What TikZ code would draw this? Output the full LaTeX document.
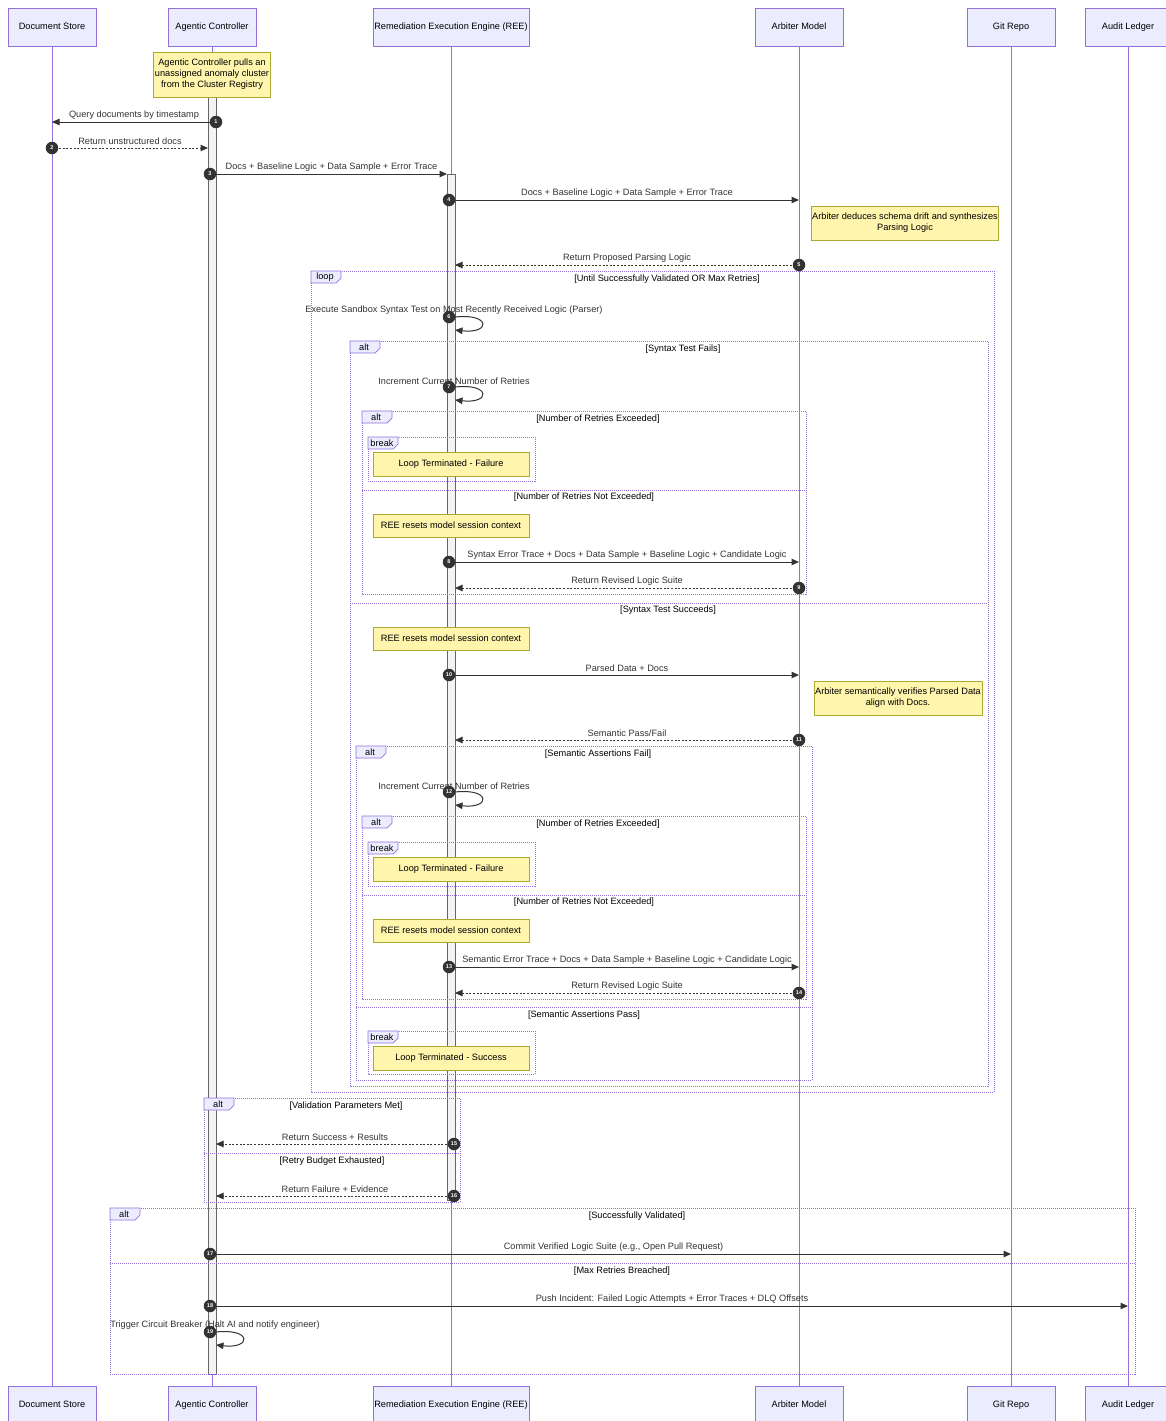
\documentclass[tikz,border=0pt]{standalone}
\usepackage{fontspec}
\setmainfont{Liberation Sans}
\usetikzlibrary{arrows.meta,positioning,calc}

\definecolor{mmline}{HTML}{9370DB}
\definecolor{mmbox}{HTML}{ECECFF}
\definecolor{mmnote}{HTML}{FFF5AD}
\definecolor{mmnoteline}{HTML}{AAAA33}
\definecolor{mmtext}{HTML}{333333}
\definecolor{mmact}{HTML}{F4F4F4}
\definecolor{mmactline}{HTML}{666666}

\tikzset{
  actor/.style={draw=mmline, fill=mmbox, minimum height=38pt, inner sep=0pt, line width=0.8pt,
    text height=7pt, text depth=2pt},
  life/.style={draw=mmline, line width=0.8pt},
  act/.style={draw=mmactline, fill=mmact, line width=0.7pt},
  msg/.style={draw=mmtext, line width=1pt, ->},
  reply/.style={msg, dash pattern=on 2pt off 1.6pt},
  msglabel/.style={text=mmtext, above=1pt, inner sep=1pt},
  num/.style={circle, fill=mmtext, text=white, inner sep=0pt, minimum size=12.5pt, font=\fontsize{5.5}{6}\selectfont\bfseries},
  note/.style={draw=mmnoteline, fill=mmnote, align=center, inner sep=1pt, line width=0.8pt},
  frame/.style={draw=mmline, line width=0.7pt, dash pattern=on 1pt off 1pt},
  tab/.style={draw=mmline, fill=mmbox, line width=0.7pt},
  guard/.style={text=black, inner sep=0pt}
}

\newcommand{\seqtab}[3]{%
  \draw[tab] (#1,#2) -- ++(30,0) -- ++(0,7) -- ++(-5,5) -- ++(-25,0) -- cycle;
  \node[guard] at (#1+14,#2+6.5) {#3};}

\begin{document}
\begin{tikzpicture}[x=1pt, y=-1pt, >={Triangle[length=7.5pt,width=6.5pt]}, font=\fontsize{9.2}{11}\selectfont]
\useasboundingbox (0,0) rectangle (1166,1421);

% participants and lifelines
\foreach \nm/\cx/\w/\txt in {ds/52/88/{Document Store}, ac/212/88/{Agentic Controller},
    ree/451/156/{Remediation Execution Engine (REE)}, arb/799/88/{Arbiter Model},
    git/1011/88/{Git Repo}, aud/1128/86/{Audit Ledger}} {
  \node[actor, minimum width=\w pt] (\nm) at (\cx,27) {\txt};
  \node[actor, minimum width=\w pt] (\nm-b) at (\cx,1405) {\txt};
  \draw[life] (\nm) -- (\nm-b);
}

% activations
\draw[act] (208,97) rectangle (216,1374);
\draw[act] (447,174) rectangle (455,1200);

% frames
\draw[frame] (311,271) rectangle (994,1092);
\seqtab{311}{271}{loop}
\node[guard] at (667,279) {[Until Successfully Validated OR Max Retries]};

\draw[frame] (350,341) rectangle (988,1086);
\seqtab{350}{341}{alt}
\node[guard] at (683,349) {[Syntax Test Fails]};
\draw[frame] (350,603) -- (988,603);
\node[guard] at (668,610) {[Syntax Test Succeeds]};

\draw[frame] (362,411) rectangle (806,594);
\seqtab{362}{411}{alt}
\node[guard] at (598,419) {[Number of Retries Exceeded]};
\draw[frame] (362,490) -- (806,490);
\node[guard] at (584,497) {[Number of Retries Not Exceeded]};
\draw[frame] (368,437) rectangle (535,481);
\seqtab{368}{437}{break}

\draw[frame] (356,746) rectangle (812,1080);
\seqtab{356}{746}{alt}
\node[guard] at (598,754) {[Semantic Assertions Fail]};
\draw[frame] (356,1007) -- (812,1007);
\node[guard] at (584,1015) {[Semantic Assertions Pass]};

\draw[frame] (362,816) rectangle (806,999);
\seqtab{362}{816}{alt}
\node[guard] at (598,824) {[Number of Retries Exceeded]};
\draw[frame] (362,895) -- (806,895);
\node[guard] at (584,902) {[Number of Retries Not Exceeded]};
\draw[frame] (368,842) rectangle (535,886);
\seqtab{368}{842}{break}

\draw[frame] (368,1031) rectangle (535,1074);
\seqtab{368}{1031}{break}

\draw[frame] (204,1098) rectangle (460,1202);
\seqtab{204}{1098}{alt}
\node[guard] at (346,1106) {[Validation Parameters Met]};
\draw[frame] (204,1153) -- (460,1153);
\node[guard] at (332,1161) {[Retry Budget Exhausted]};

\draw[frame] (110,1208) rectangle (1135,1374);
\seqtab{110}{1208}{alt}
\node[guard] at (637,1216) {[Successfully Validated]};
\draw[frame] (110,1263) -- (1135,1263);
\node[guard] at (622,1271) {[Max Retries Breached]};

% notes
\node[note, minimum width=117pt, minimum height=45pt] (pull) at (ac |- 0,74.5)
  {Agentic Controller pulls an\\unassigned anomaly cluster\\from the Cluster Registry};
\node[note, minimum width=182pt, minimum height=34pt] (deduce) at (905,223)
  {Arbiter deduces schema drift and synthesizes\\Parsing Logic};
\node[note, minimum width=156pt, minimum height=24pt] (fail1) at (ree |- 0,464) {Loop Terminated - Failure};
\node[note, minimum width=156pt, minimum height=23pt] (reset1) at (ree |- 0,525.5) {REE resets model session context};
\node[note, minimum width=156pt, minimum height=23pt] (reset2) at (ree |- 0,638.5) {REE resets model session context};
\node[note, minimum width=168pt, minimum height=34pt] (verify) at (898,698)
  {Arbiter semantically verifies Parsed Data\\align with Docs.};
\node[note, minimum width=156pt, minimum height=24pt] (fail2) at (ree |- 0,869) {Loop Terminated - Failure};
\node[note, minimum width=156pt, minimum height=23pt] (reset3) at (ree |- 0,930.5) {REE resets model session context};
\node[note, minimum width=156pt, minimum height=24pt] (success) at (ree |- 0,1058) {Loop Terminated - Success};

% messages
\draw[msg] ([xshift=4pt]ac.center |- 0,122) -- node[msglabel]{Query documents by timestamp}
  (ds.center |- 0,122) node[num, pos=0]{1};
\draw[reply] (ds.center |- 0,148) -- node[msglabel, above=2pt]{Return unstructured docs}
  ([xshift=-4pt]ac.center |- 0,148) node[num, pos=0]{2};
\draw[msg] ([xshift=4pt]ac.center |- 0,174) -- node[msglabel]{Docs + Baseline Logic + Data Sample + Error Trace}
  ([xshift=-4pt]ree.center |- 0,174);
\node[num] at ([xshift=-2pt]ac.center |- 0,174) {3};
\draw[msg] ([xshift=4pt]ree.center |- 0,200) -- node[msglabel]{Docs + Baseline Logic + Data Sample + Error Trace}
  (arb.center |- 0,200);
\node[num] at ([xshift=-2pt]ree.center |- 0,200) {4};
\draw[reply] (arb.center |- 0,265) -- node[msglabel]{Return Proposed Parsing Logic}
  ([xshift=4pt]ree.center |- 0,265) node[num, pos=0]{5};

\node[msglabel, above=0pt] at ([xshift=3pt]ree.center |- 0,316) {Execute Sandbox Syntax Test on Most Recently Received Logic (Parser)};
\draw[msg] ([xshift=4pt]ree.center |- 0,317) .. controls +(36,-4) and +(36,4) .. ([xshift=4pt]ree.center |- 0,330);
\node[num] at ([xshift=-2pt]ree.center |- 0,317) {6};

\node[msglabel, above=0pt] at ([xshift=3pt]ree.center |- 0,386) {Increment Current Number of Retries};
\draw[msg] ([xshift=4pt]ree.center |- 0,387) .. controls +(36,-4) and +(36,4) .. ([xshift=4pt]ree.center |- 0,400);
\node[num] at ([xshift=-2pt]ree.center |- 0,387) {7};

\draw[msg] ([xshift=4pt]ree.center |- 0,562) -- node[msglabel]{Syntax Error Trace + Docs + Data Sample + Baseline Logic + Candidate Logic}
  (arb.center |- 0,562);
\node[num] at ([xshift=-2pt]ree.center |- 0,562) {8};
\draw[reply] (arb.center |- 0,588) -- node[msglabel]{Return Revised Logic Suite}
  ([xshift=4pt]ree.center |- 0,588) node[num, pos=0]{9};

\draw[msg] ([xshift=4pt]ree.center |- 0,675) -- node[msglabel, above=2pt]{Parsed Data + Docs}
  (arb.center |- 0,675);
\node[num] at ([xshift=-2pt]ree.center |- 0,675) {10};
\draw[reply] (arb.center |- 0,740) -- node[msglabel, above=2pt]{Semantic Pass/Fail}
  ([xshift=4pt]ree.center |- 0,740) node[num, pos=0]{11};

\node[msglabel, above=0pt] at ([xshift=3pt]ree.center |- 0,791) {Increment Current Number of Retries};
\draw[msg] ([xshift=4pt]ree.center |- 0,792) .. controls +(36,-4) and +(36,4) .. ([xshift=4pt]ree.center |- 0,805);
\node[num] at ([xshift=-2pt]ree.center |- 0,792) {12};

\draw[msg] ([xshift=4pt]ree.center |- 0,967) -- node[msglabel]{Semantic Error Trace + Docs + Data Sample + Baseline Logic + Candidate Logic}
  (arb.center |- 0,967);
\node[num] at ([xshift=-2pt]ree.center |- 0,967) {13};
\draw[reply] (arb.center |- 0,993) -- node[msglabel]{Return Revised Logic Suite}
  ([xshift=4pt]ree.center |- 0,993) node[num, pos=0]{14};

\draw[reply] ([xshift=3pt]ree.center |- 0,1144) -- node[msglabel, above=2pt]{Return Success + Results}
  ([xshift=4pt]ac.center |- 0,1144) node[num, pos=0]{15};
\draw[reply] ([xshift=3pt]ree.center |- 0,1196) -- node[msglabel, above=2pt]{Return Failure + Evidence}
  ([xshift=4pt]ac.center |- 0,1196) node[num, pos=0]{16};

\draw[msg] ([xshift=4pt]ac.center |- 0,1254) -- node[msglabel]{Commit Verified Logic Suite (e.g., Open Pull Request)}
  (git.center |- 0,1254);
\node[num] at ([xshift=-2pt]ac.center |- 0,1254) {17};
\draw[msg] ([xshift=4pt]ac.center |- 0,1306) -- node[msglabel]{Push Incident: Failed Logic Attempts + Error Traces + DLQ Offsets}
  (aud.center |- 0,1306);
\node[num] at ([xshift=-2pt]ac.center |- 0,1306) {18};

\node[msglabel, above=0pt] at ([xshift=3pt]ac.center |- 0,1331) {Trigger Circuit Breaker (Halt AI and notify engineer)};
\draw[msg] ([xshift=4pt]ac.center |- 0,1332) .. controls +(36,-4) and +(36,4) .. ([xshift=4pt]ac.center |- 0,1345);
\node[num] at ([xshift=-2pt]ac.center |- 0,1332) {19};
\end{tikzpicture}
\end{document}
